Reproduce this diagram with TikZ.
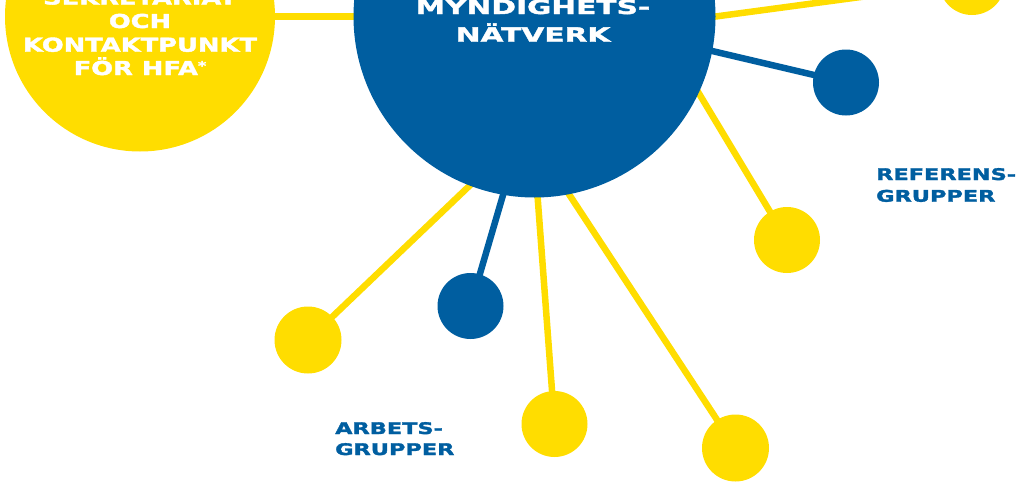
\documentclass[tikz,border=0pt]{standalone}
\usepackage{fontspec}
\usetikzlibrary{backgrounds}
\newfontfamily\netfont{DejaVu Sans Bold}[FakeStretch=1.5,FakeBold=2]
\newfontfamily\sekfont{DejaVu Sans Bold}[FakeStretch=1.34,FakeBold=2]
\newfontfamily\labfont{DejaVu Sans Bold}[FakeStretch=1.40,FakeBold=2]
\definecolor{hblue}{RGB}{0,94,160}
\definecolor{hyellow}{RGB}{255,221,0}
\begin{document}
\begin{tikzpicture}[x=1pt,y=-1pt,
  hub/.style={circle,inner sep=0pt,draw=none},
  ydot/.style={hub,fill=hyellow,minimum size=66pt},
  bdot/.style={hub,fill=hblue,minimum size=66pt},
  yline/.style={draw=hyellow,line width=6.5pt,shorten >=-12pt,shorten <=-3pt},
  bline/.style={draw=hblue,line width=6.5pt,shorten >=-12pt,shorten <=-3pt},
  wtext/.style={text=white,inner sep=0pt,anchor=base},
  sektext/.style={wtext,font=\sekfont\fontsize{19.2}{19.2}\selectfont},
  nettext/.style={wtext,font=\netfont\fontsize{19.75}{20}\selectfont},
  btext/.style={text=hblue,inner sep=0pt,anchor=base west,font=\labfont\fontsize{16}{16}\selectfont},
]
\useasboundingbox (0,0) rectangle (1023,482);
\clip (0,0) rectangle (1023,482);
% circles
\node[hub,fill=hyellow,minimum size=270pt] (sek) at (140,16.5) {};
\node[hub,fill=hblue,minimum size=362pt] (net) at (534.5,16.5) {};
\node[ydot] (d1) at (972,-18) {};
\node[bdot] (b1) at (846,82.5) {};
\node[ydot] (d2) at (787,240) {};
\node[ydot,minimum size=67pt] (d3) at (735.5,448) {};
\node[ydot] (d4) at (554.5,424) {};
\node[bdot] (b2) at (470.5,306) {};
\node[ydot,minimum size=67pt] (d5) at (308,340) {};
% texts
\node[sektext] (s1) at (140,4.5) {SEKRETARIAT};
\node[sektext] (s2) at (140,28) {OCH};
\node[sektext] (s3) at (140,51.7) {KONTAKTPUNKT};
\node[sektext] (s4) at (140,75) {FÖR HFA{\fontsize{12}{12}\selectfont\raisebox{5pt}{*}}};
\node[nettext] (n1) at (533,14) {MYNDIGHETS-};
\node[nettext] (n2) at (533,41.7) {NÄTVERK};
\node[btext] (r1) at (876,180) {REFERENS-};
\node[btext] (r2) at (876,201.7) {GRUPPER};
\node[btext] (a1) at (335,434) {ARBETS-};
\node[btext] (a2) at (335,455) {GRUPPER};
% connectors
\begin{pgfonlayer}{background}
\draw[yline,shorten >=-3pt] (sek) -- (net);
\draw[yline] (d1) -- (net.0);
\draw[bline] (b1) -- (net.-11.4);
\draw[yline] (d2) -- (net.-25);
\draw[yline] (d3) -- (net.-79.4);
\draw[yline] (d4) -- (net.-89);
\draw[bline] (b2) -- (net.-100.4);
\draw[yline] (d5) -- (net.-111.3);
\end{pgfonlayer}
\end{tikzpicture}
\end{document}
